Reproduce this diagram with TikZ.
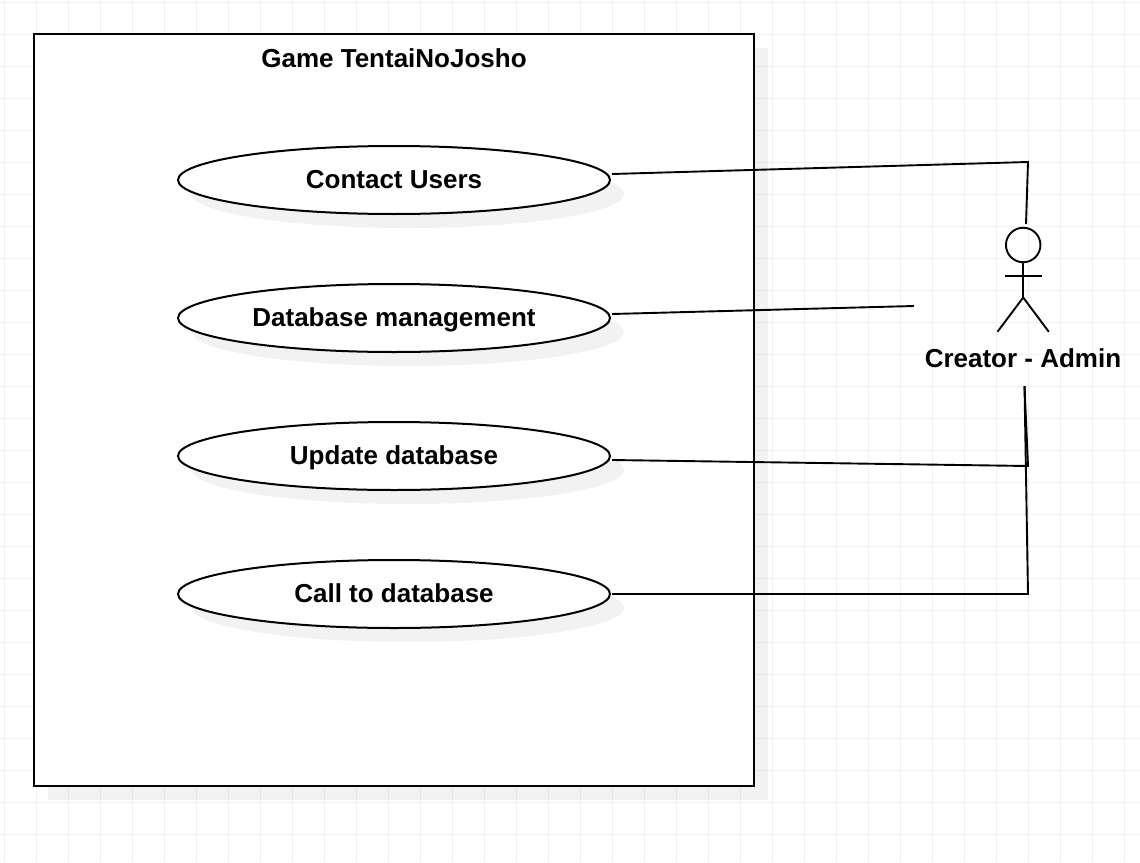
\documentclass[tikz,border=0pt]{standalone}
\usepackage{fontspec}
\setmainfont{Liberation Sans}
\usetikzlibrary{shapes.geometric,shadows}
\definecolor{gridgray}{HTML}{F0F0F0}
\tikzset{
  gridline/.style={draw=gridgray,line width=1pt},
  wire/.style={draw=black,line width=1.9pt},
  thick box/.style={draw=black,line width=2pt,fill=white,inner sep=0pt,
    drop shadow={shadow xshift=14pt,shadow yshift=-14pt,fill=black,opacity=0.05}},
  label text/.style={font=\bfseries\fontsize{26}{30}\selectfont,inner sep=0pt,text height=21.5pt,text depth=3.5pt},
  usecase/.style={thick box,label text,ellipse,minimum width=432pt,minimum height=68pt,text height=19.5pt}
}
\begin{document}
\begin{tikzpicture}[x=1pt,y=-1pt]
  \useasboundingbox (0,0) rectangle (1140,862);
  \fill[white] (0,0) rectangle (1140,862);

  % Background grid
  \foreach \gx in {0,...,35} {\draw[gridline] (4.3+32*\gx,0) -- (4.3+32*\gx,862);}
  \foreach \gy in {0,...,26} {\draw[gridline] (0,2.3+32*\gy) -- (1140,2.3+32*\gy);}

  % System boundary
  \node (system) [thick box,rectangle,minimum width=720pt,minimum height=752pt] at (394,410) {};
  \node (title) [label text] at (394,58) {Game TentaiNoJosho};

  % Use cases
  \node (contact) [usecase] at (394,180) {Contact Users};
  \node (manage) [usecase] at (394,318) {Database management};
  \node (update) [usecase] at (394,456) {Update database};
  \node (call) [usecase] at (394,594) {Call to database};

  % Actor
  \node (head) [circle,draw=black,line width=1.9pt,minimum size=34.5pt,inner sep=0pt] at (1023.2,245) {};
  \coordinate (hip) at (1023.2,297.5);
  \coordinate (armL) at (1005,275.7);
  \coordinate (armR) at (1041.7,275.7);
  \coordinate (legL) at (997.5,331.8);
  \coordinate (legR) at (1048.8,331.8);
  \draw[wire] (head.south) -- (hip);
  \draw[wire] (armL) -- (armR);
  \draw[wire] (legL) -- (hip) -- (legR);
  \node (admin) [label text] at (1023,358) {Creator - Admin};

  % Free ends and corners of the associations
  \coordinate (topCorner) at (1028,162);
  \coordinate (topEnd) at (1026,224);
  \coordinate (manageEnd) at (914,306);
  \coordinate (updateCorner) at (1028,466);
  \coordinate (callCorner) at (1028,594);
  \coordinate (adminFoot) at (1024.5,386);

  % Associations
  \draw[wire] ([shift={(1,-6)}]contact.east) -- (topCorner) -- (topEnd);
  \draw[wire] ([shift={(1,-4)}]manage.east) -- (manageEnd);
  \draw[wire] ([shift={(1,4)}]update.east) -- (updateCorner) -- (adminFoot);
  \draw[wire] ([shift={(1,0)}]call.east) -- (callCorner) -- (adminFoot);
\end{tikzpicture}
\end{document}
